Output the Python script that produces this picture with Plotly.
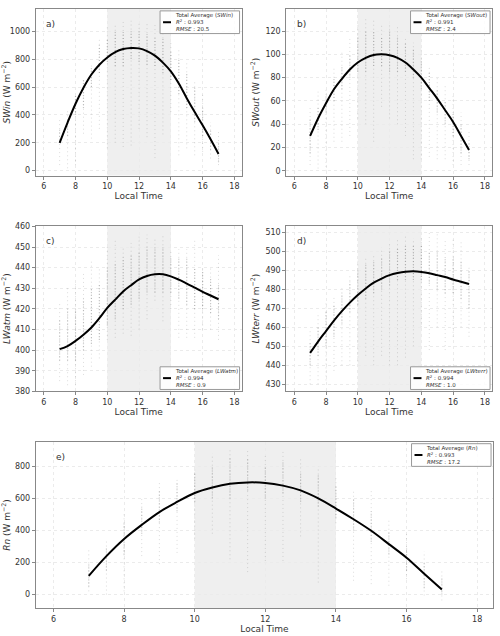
import plotly.graph_objects as go

TIMES = [7, 7.5, 8, 8.5, 9, 9.5, 10, 10.5, 11, 11.5, 12, 12.5, 13, 13.5, 14, 14.5, 15, 15.5, 16, 16.5, 17]
SHADE_START, SHADE_END = 10, 14
X_TICKS = [6, 8, 10, 12, 14, 16, 18]

# a) SWin
SWIN_FIT = [200, 345, 480, 595, 690, 760, 812, 850, 872, 880, 877, 858, 825, 775, 712, 625, 520, 420, 325, 225, 120]
SWIN_LO = [40, 17, 40, 265, 230, 300, 160, 200, 170, 180, 300, 240, 90, 260, 420, 110, 160, 110, 135, 87, 40]
SWIN_HI = [382, 440, 547, 665, 760, 960, 1030, 1055, 1075, 1075, 1070, 1060, 1050, 1020, 925, 865, 780, 650, 560, 347, 288]
SWIN_CLO = [200, 250, 400, 450, 600, 700, 780, 750, 750, 800, 780, 760, 750, 700, 650, 550, 450, 350, 250, 150, 60]
SWIN_CHI = [300, 380, 550, 650, 750, 900, 950, 1000, 1000, 1000, 1000, 980, 950, 950, 850, 800, 700, 600, 450, 300, 200]

# b) SWout
SWOUT_FIT = [30, 45, 58, 70, 79, 87, 93, 97, 99.5, 100, 99.3, 97, 93, 87, 80, 71, 62, 52, 42, 30, 18]
SWOUT_LO = [5, 2, 0, 25, 25, 30, 45, 40, 25, 55, 45, 40, 30, 10, 10, 12, 10, 10, 5, 5, 5]
SWOUT_HI = [55, 68, 72, 90, 102, 115, 125, 132, 130, 125, 125, 125, 115, 110, 105, 90, 80, 75, 65, 50, 35]
SWOUT_CLO = [15, 35, 50, 60, 70, 80, 85, 85, 90, 90, 85, 85, 85, 80, 70, 60, 50, 40, 30, 15, 10]
SWOUT_CHI = [45, 55, 65, 80, 90, 100, 115, 120, 120, 115, 120, 115, 110, 105, 95, 85, 70, 60, 50, 40, 25]

# c) LWatm
LWATM_FIT = [400.5, 402, 404.5, 407.5, 411, 415.5, 420.5, 424.5, 428.5, 431.5, 434.3, 436, 436.8, 436.8, 435.8, 434.2, 432.3, 430.3, 428.3, 426.5, 424.7]
LWATM_LO = [385, 383, 383, 388, 392, 396, 405, 406, 408, 407, 410, 415, 424, 414, 420, 406, 406, 406, 410, 410, 405]
LWATM_HI = [423, 430, 432, 438, 444, 440, 450, 454, 450, 452, 455, 456, 455, 456, 449, 449, 449, 454, 441, 440, 446]
LWATM_CLO = [395, 395, 395, 400, 403, 405, 412, 415, 420, 422, 425, 428, 428, 428, 428, 425, 422, 420, 420, 418, 415]
LWATM_CHI = [415, 420, 420, 425, 430, 432, 440, 442, 445, 446, 448, 450, 450, 450, 445, 445, 445, 440, 438, 435, 432]

# d) LWterr
LWTERR_FIT = [446.5, 452.5, 458, 463.5, 468.5, 473, 477, 480.5, 483.5, 485.7, 487.5, 488.6, 489.3, 489.5, 489.2, 488.5, 487.5, 486.5, 485.2, 484, 482.8]
LWTERR_LO = [430, 430, 432, 437, 440, 440, 442, 445, 440, 445, 440, 440, 444, 450, 460, 448, 460, 448, 455, 460, 455]
LWTERR_HI = [458, 468, 474, 477, 482, 488, 495, 497, 498, 502, 505, 507, 508, 507, 507, 510, 509, 507, 507, 505, 492]
LWTERR_CLO = [440, 445, 450, 455, 462, 468, 472, 475, 478, 480, 482, 485, 485, 485, 485, 483, 480, 478, 478, 475, 470]
LWTERR_CHI = [452, 460, 468, 472, 478, 484, 490, 493, 495, 497, 500, 502, 503, 503, 503, 500, 500, 497, 497, 495, 490]

# e) Rn
RN_FIT = [117, 240, 347, 435, 515, 578, 634, 668, 691, 700, 697, 680, 650, 600, 537, 470, 398, 315, 230, 130, 31]
RN_LO = [20, 0, 20, 240, 190, 260, 350, 380, 220, 140, 210, 210, 363, 75, 445, 86, 65, 55, 96, -6, -37]
RN_HI = [290, 340, 520, 610, 700, 720, 800, 880, 900, 900, 876, 900, 845, 800, 742, 654, 660, 470, 384, 270, 158]
RN_CLO = [50, 150, 250, 380, 450, 520, 580, 600, 600, 650, 600, 630, 580, 550, 480, 400, 330, 250, 150, 40, 0]
RN_CHI = [200, 300, 450, 550, 650, 700, 760, 800, 850, 850, 800, 830, 760, 750, 680, 600, 520, 400, 300, 200, 100]

PANELS = [
    dict(label="a)", name="SWin", fit=SWIN_FIT, lo=SWIN_LO, hi=SWIN_HI, clo=SWIN_CLO, chi=SWIN_CHI,
         r2="0.993", rmse="20.5", yrange=[-35, 1160], ytick=200,
         px_x=[33, 240], px_y=[5, 174], leg="top"),
    dict(label="b)", name="SWout", fit=SWOUT_FIT, lo=SWOUT_LO, hi=SWOUT_HI, clo=SWOUT_CLO, chi=SWOUT_CHI,
         r2="0.991", rmse="2.4", yrange=[-4, 139], ytick=20,
         px_x=[285, 492], px_y=[5, 174], leg="top"),
    dict(label="c)", name="LWatm", fit=LWATM_FIT, lo=LWATM_LO, hi=LWATM_HI, clo=LWATM_CLO, chi=LWATM_CHI,
         r2="0.994", rmse="0.9", yrange=[380, 460.3], ytick=10,
         px_x=[33, 240], px_y=[225, 393], leg="bottom"),
    dict(label="d)", name="LWterr", fit=LWTERR_FIT, lo=LWTERR_LO, hi=LWTERR_HI, clo=LWTERR_CLO, chi=LWTERR_CHI,
         r2="0.994", rmse="1.0", yrange=[426.2, 513.5], ytick=10,
         px_x=[285, 492], px_y=[225, 393], leg="bottom"),
    dict(label="e)", name="Rn", fit=RN_FIT, lo=RN_LO, hi=RN_HI, clo=RN_CLO, chi=RN_CHI,
         r2="0.993", rmse="17.2", yrange=[-86, 954], ytick=200,
         px_x=[33, 493], px_y=[444, 613], leg="top"),
]

W, H = 500, 636
FONT = "DejaVu Sans"
fig = go.Figure()
layout = dict(
    width=W, height=H, margin=dict(l=0, r=0, t=0, b=0),
    paper_bgcolor="white", plot_bgcolor="white",
    font=dict(family=FONT, size=8, color="#333"),
    shapes=[], annotations=[], showlegend=False,
)

LEG_W, LEG_H, LEG_PAD = 80, 23, 2

for i, p in enumerate(PANELS):
    n = i + 1
    xa = "x" if n == 1 else f"x{n}"
    ya = "y" if n == 1 else f"y{n}"
    x0p, x1p = p["px_x"]
    y0p, y1p = p["px_y"]
    pw, ph = x1p - x0p, y1p - y0p
    dom_x = [x0p / W, x1p / W]
    dom_y = [1 - y1p / H, 1 - y0p / H]

    def seg(lo, hi):
        xs, ys = [], []
        for t, a, b in zip(TIMES, lo, hi):
            xs += [t, t, None]
            ys += [a, b, None]
        return xs, ys

    xs, ys = seg(p["lo"], p["hi"])
    fig.add_trace(go.Scatter(x=xs, y=ys, mode="lines", xaxis=xa, yaxis=ya,
                             line=dict(color="rgba(0,0,0,0.14)", width=1, dash="1px,3px"), hoverinfo="skip"))
    xs, ys = seg(p["clo"], p["chi"])
    fig.add_trace(go.Scatter(x=xs, y=ys, mode="lines", xaxis=xa, yaxis=ya,
                             line=dict(color="rgba(0,0,0,0.22)", width=1.2, dash="1px,2px"), hoverinfo="skip"))
    fig.add_trace(go.Scatter(x=TIMES, y=p["fit"], mode="lines", xaxis=xa, yaxis=ya,
                             name=f"Total Average ({p['name']})",
                             line=dict(color="black", width=2, shape="spline", smoothing=1.0)))

    axis_common = dict(showline=True, linecolor="#888", linewidth=1, mirror=True,
                       showgrid=True, gridcolor="#ebebeb", griddash="dot", gridwidth=0.8,
                       ticks="outside", ticklen=3, tickcolor="#888", zeroline=False,
                       tickfont=dict(size=8, color="#333"))
    layout["xaxis" if n == 1 else f"xaxis{n}"] = dict(
        axis_common, domain=dom_x, anchor=ya, range=[5.5, 18.45], tickvals=X_TICKS,
        title=dict(text="Local Time", font=dict(size=9, color="#333"), standoff=2))
    nm = p["name"]
    layout["yaxis" if n == 1 else f"yaxis{n}"] = dict(
        axis_common, domain=dom_y, anchor=xa, range=p["yrange"], dtick=p["ytick"],
        title=dict(text=f"<i>{nm}</i> (W m<sup>−2</sup>)", font=dict(size=9, color="#333"), standoff=4))

    layout["shapes"].append(dict(type="rect", xref=f"{xa} domain", yref=f"{ya} domain",
                                 x0=(SHADE_START - 5.5) / (18.45 - 5.5), x1=(SHADE_END - 5.5) / (18.45 - 5.5),
                                 y0=0, y1=1, fillcolor="#efefef", line=dict(width=0), layer="below"))
    layout["annotations"].append(dict(text=p["label"], xref=f"{xa} domain", yref=f"{ya} domain",
                                      x=0.04, y=0.95, xanchor="left", yanchor="top", showarrow=False,
                                      font=dict(size=9, color="#333")))

    # legend box (drawn manually to match compact matplotlib legend)
    lx1 = 1 - LEG_PAD / pw
    lx0 = 1 - (LEG_PAD + LEG_W) / pw
    if p["leg"] == "top":
        ly1 = 1 - LEG_PAD / ph
        ly0 = 1 - (LEG_PAD + LEG_H) / ph
    else:
        ly0 = LEG_PAD / ph
        ly1 = (LEG_PAD + LEG_H) / ph
    layout["shapes"].append(dict(type="rect", xref=f"{xa} domain", yref=f"{ya} domain",
                                 x0=lx0, x1=lx1, y0=ly0, y1=ly1, fillcolor="rgba(255,255,255,0.85)",
                                 line=dict(color="#999", width=1), layer="above"))
    ymid = (ly0 + ly1) / 2
    layout["shapes"].append(dict(type="line", xref=f"{xa} domain", yref=f"{ya} domain",
                                 x0=lx0 + 3 / pw, x1=lx0 + 11 / pw, y0=ymid, y1=ymid,
                                 line=dict(color="black", width=2), layer="above"))
    legtxt = (f"Total Average (<i>{nm}</i>)<br><i>R</i><sup>2</sup> : {p['r2']}"
              f"<br><i>RMSE</i> : {p['rmse']}")
    layout["annotations"].append(dict(text=legtxt, xref=f"{xa} domain", yref=f"{ya} domain",
                                      x=lx0 + 13 / pw, y=ymid, xanchor="left", yanchor="middle",
                                      align="left", showarrow=False,
                                      font=dict(size=5.5, color="#333")))

fig.update_layout(**layout)
fig.write_html("out.html")
